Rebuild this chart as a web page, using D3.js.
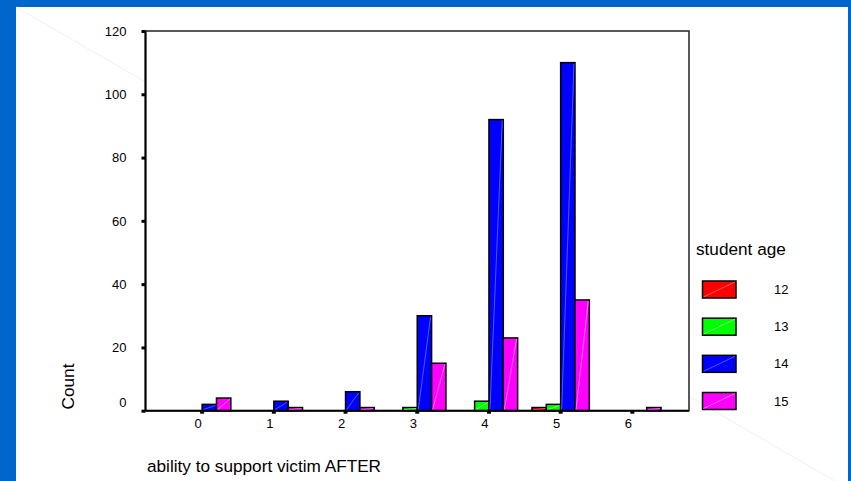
<!DOCTYPE html>
<html>
<head>
<meta charset="utf-8">
<script src="https://cdn.jsdelivr.net/npm/d3@7"></script>
<style>
  html, body { margin: 0; padding: 0; background: #0066cc; }
  svg { display: block; font-family: "Liberation Sans", Arial, sans-serif; }
</style>
</head>
<body>
<script>
const categories = ["0", "1", "2", "3", "4", "5", "6"];
const seriesNames = ["12", "13", "14", "15"];
const age12 = [0, 0, 0, 0, 0, 1, 0];
const age13 = [0, 0, 0, 1, 3, 2, 0];
const age14 = [2, 3, 6, 30, 92, 110, 0];
const age15 = [4, 1, 1, 15, 23, 35, 1];
const seriesColors = ["#ff0000", "#00ff00", "#0000ff", "#ff00ff"];
const seriesHighlights = ["#ff8080", "#a0ffa0", "#6a80ff", "#ff9cff"];
const yTicks = [0, 20, 40, 60, 80, 100, 120];
const xTitle = "ability to support victim AFTER";
const yTitle = "Count";
const legendTitle = "student age";

const seriesValues = [age12, age13, age14, age15];

const W = 851, H = 481;
const svg = d3.select("body").append("svg").attr("width", W).attr("height", H);

// slide background
svg.append("rect").attr("width", W).attr("height", H).attr("fill", "#0066cc");
svg.append("rect").attr("x", 16).attr("y", 7).attr("width", 832).attr("height", H - 7).attr("fill", "#ffffff");
svg.append("line").attr("x1", 16).attr("y1", 7).attr("x2", 835).attr("y2", 481)
  .attr("stroke", "#f0f0f0").attr("stroke-width", 1);

const pLeft = 145.5, pRight = 689, pTop = 31, pBottom = 410.7;

const y = d3.scaleLinear().domain([0, 120]).range([pBottom, pTop]);
const x0 = d3.scaleBand().domain(categories).range([pLeft, pRight]).paddingInner(0.2).paddingOuter(0.39);
const x1 = d3.scaleBand().domain(seriesNames).range([0, x0.bandwidth()]);

// plot frame
svg.append("rect").attr("x", pLeft).attr("y", pTop).attr("width", pRight - pLeft).attr("height", pBottom - pTop)
  .attr("fill", "#ffffff").attr("stroke", "#222").attr("stroke-width", 1.5);

// bars
seriesNames.forEach((s, si) => {
  const g = svg.append("g");
  categories.forEach((c, ci) => {
    const v = seriesValues[si][ci];
    if (!v) return;
    const bx = x0(c) + x1(s), bw = x1.bandwidth();
    g.append("rect").attr("x", bx).attr("y", y(v)).attr("width", bw).attr("height", y(0) - y(v))
      .attr("fill", seriesColors[si]).attr("stroke", "#000").attr("stroke-width", 1.5);
    g.append("line").attr("x1", bx + 1).attr("y1", y(0) - 1).attr("x2", bx + bw - 1).attr("y2", y(v) + 1)
      .attr("stroke", seriesHighlights[si]).attr("stroke-width", 0.7);
  });
});

// axes lines (thicker)
svg.append("line").attr("x1", pLeft).attr("x2", pLeft).attr("y1", pTop).attr("y2", pBottom)
  .attr("stroke", "#000").attr("stroke-width", 2);
svg.append("line").attr("x1", pLeft).attr("x2", pRight).attr("y1", pBottom).attr("y2", pBottom)
  .attr("stroke", "#000").attr("stroke-width", 2);

// y axis
const yAxis = svg.append("g").attr("transform", `translate(${pLeft},0)`)
  .call(d3.axisLeft(y).tickValues(yTicks).tickSize(4).tickPadding(15).tickFormat(d3.format("d")));
yAxis.select(".domain").remove();
yAxis.selectAll(".tick line").attr("stroke", "#000").attr("stroke-width", 3);
yAxis.selectAll(".tick text").attr("font-size", 13).attr("fill", "#000")
  .attr("font-family", "'Liberation Sans', Arial, sans-serif")
  .attr("dy", d => d === 0 ? "-0.3em" : "0.32em");

// x axis
const xAxis = svg.append("g").attr("transform", `translate(0,${pBottom})`)
  .call(d3.axisBottom(x0).tickSize(3).tickPadding(5));
xAxis.select(".domain").remove();
xAxis.selectAll(".tick line").attr("stroke", "#000").attr("stroke-width", 4);
xAxis.selectAll(".tick text").attr("font-size", 13).attr("fill", "#000").attr("dx", -4)
  .attr("font-family", "'Liberation Sans', Arial, sans-serif");

// titles
svg.append("text").attr("x", 147).attr("y", 472).attr("font-size", 17.2).attr("fill", "#000").text(xTitle);
svg.append("text").attr("transform", "translate(73.5,386.5) rotate(-90)").attr("text-anchor", "middle")
  .attr("font-size", 17.2).attr("fill", "#000").text(yTitle);

// legend
svg.append("text").attr("x", 696).attr("y", 254.5).attr("font-size", 17.2).attr("fill", "#000").text(legendTitle);
const legendY = d3.scalePoint().domain(seriesNames).range([281, 392.5]);
seriesNames.forEach((s, si) => {
  const ly = legendY(s);
  svg.append("rect").attr("x", 702.5).attr("y", ly).attr("width", 33.5).attr("height", 17)
    .attr("fill", seriesColors[si]).attr("stroke", "#000").attr("stroke-width", 1.5);
  svg.append("line").attr("x1", 703.5).attr("y1", ly + 16).attr("x2", 735).attr("y2", ly + 1)
    .attr("stroke", seriesHighlights[si]).attr("stroke-width", 0.7);
  svg.append("text").attr("x", 774).attr("y", ly + 8.5).attr("dy", "0.35em").attr("font-size", 13)
    .attr("fill", "#000").text(s);
});
</script>
</body>
</html>
